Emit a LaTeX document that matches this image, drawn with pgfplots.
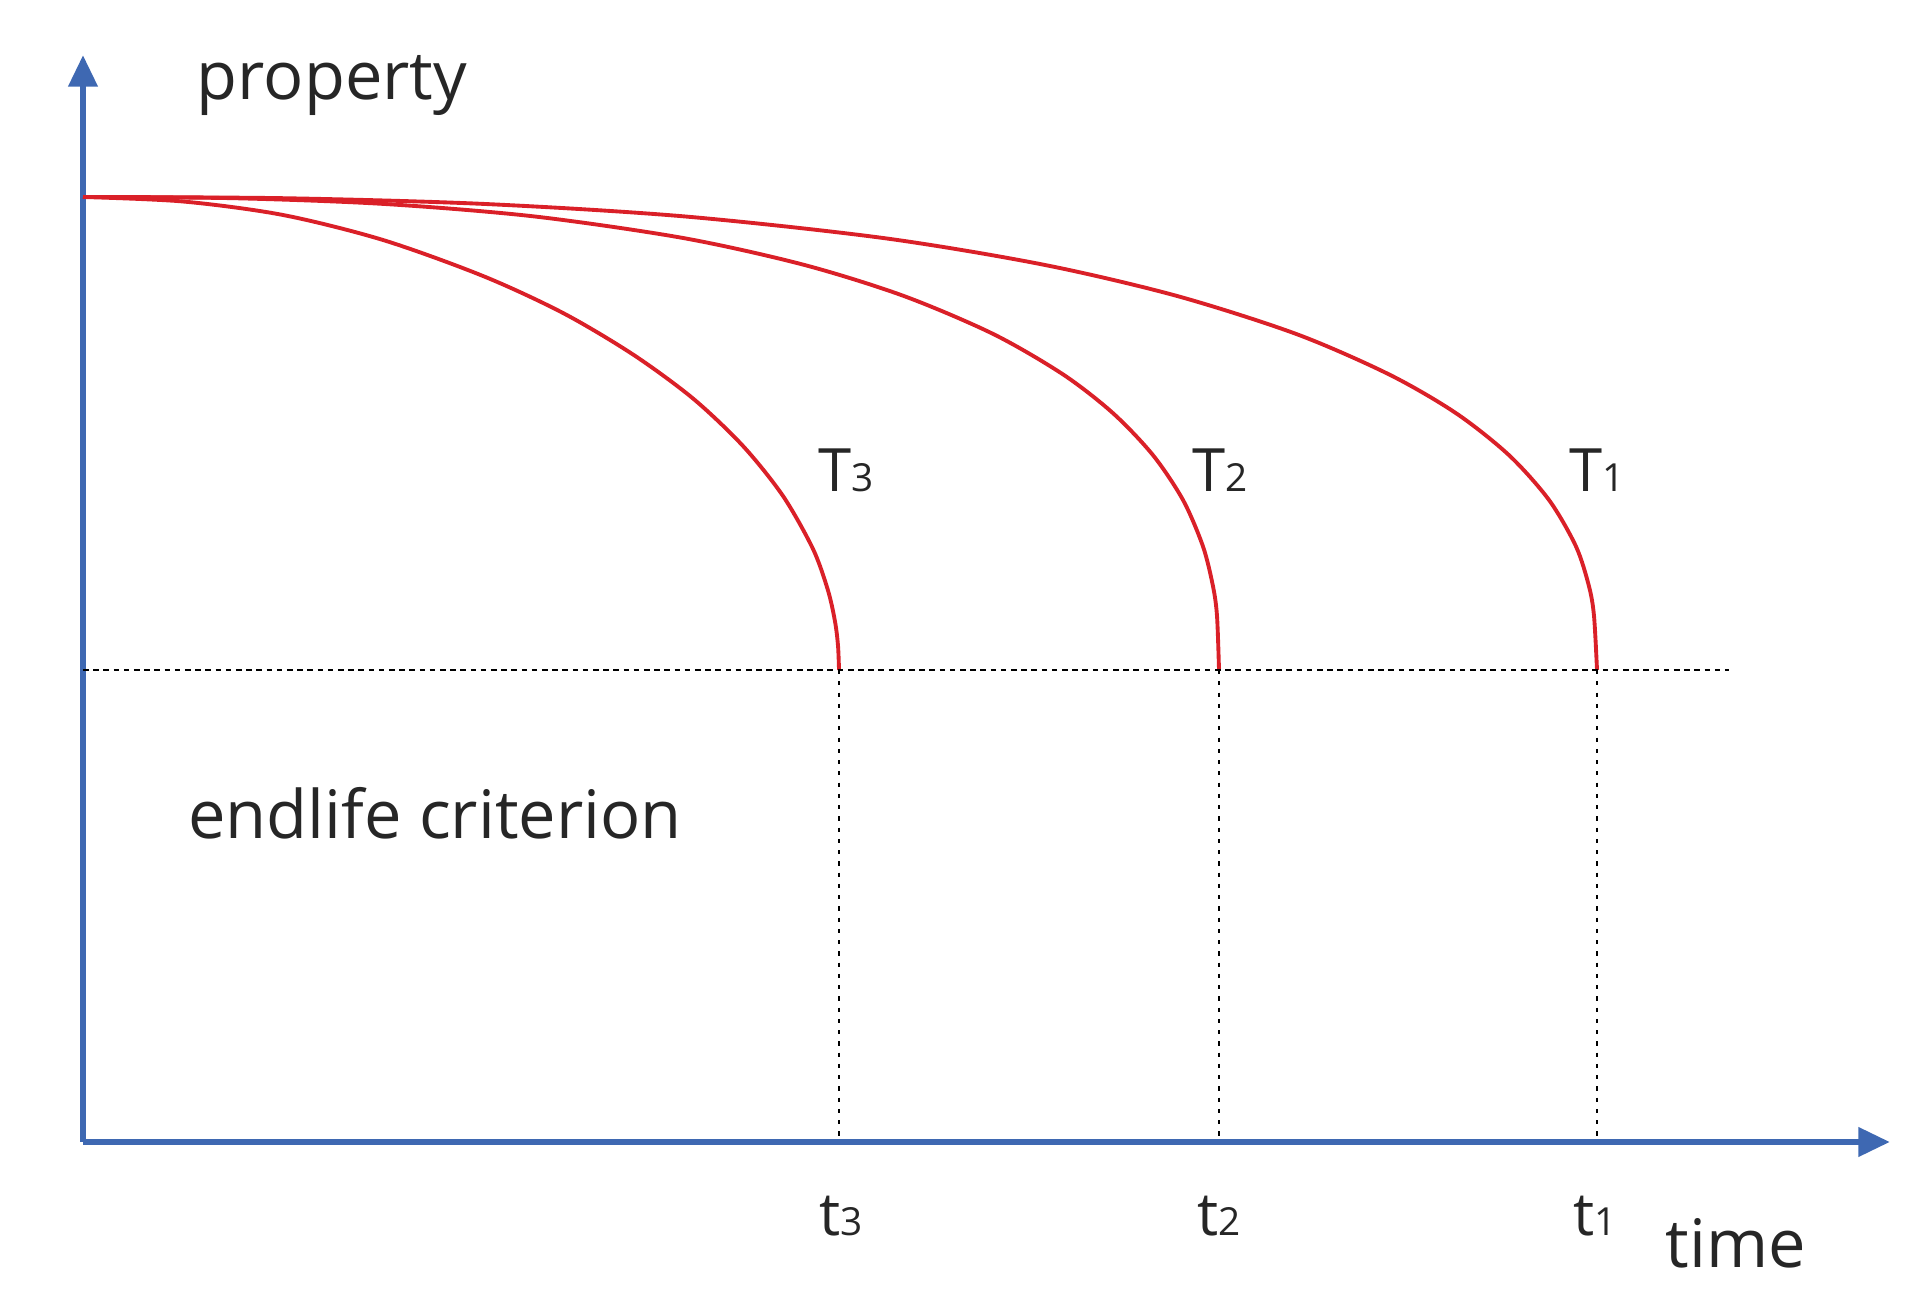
\documentclass[border=0pt]{standalone}
\usepackage{pgfplots}
\pgfplotsset{compat=1.18}
\usepackage{fontspec}
\setmainfont{Open Sans}
\usetikzlibrary{arrows.meta}
\definecolor{axblue}{RGB}{62,104,178}
\definecolor{curvered}{RGB}{218,32,40}
\newcommand{\sub}[1]{{\fontsize{11}{12}\selectfont #1}}
\begin{document}
\begin{tikzpicture}
\begin{axis}[
  x=0.01cm, y=0.01cm,
  xmin=0, xmax=1807, ymin=0, ymax=1087,
  axis lines=left,
  axis line style={axblue, line width=1.9pt, -{Triangle[length=9pt,width=8pt]}},
  ticks=none,
  enlargelimits=false,
  clip=false,
]
% T3
\addplot[curvered, line width=1.1pt, smooth, tension=0.5] coordinates {
 (0,945) (100,940.5) (200,927) (300,902) (400,866) (480,829) (550,787.5)
 (610,743.5) (660,696) (700,646) (730,593) (745,551.5) (752,520.5) (755,496.4) (756,472)};
% T2
\addplot[curvered, line width=1.1pt, smooth, tension=0.5] coordinates {
 (0,945) (150,943.8) (300,938.1) (450,925.7) (600,904) (720,877.4) (820,846.3)
 (910,808.1) (980,767.6) (1030,728.8) (1070,686.8) (1100,642) (1120,595.5)
 (1130,555.6) (1134,526) (1136,472)};
% T1
\addplot[curvered, line width=1.1pt, smooth, tension=0.5] coordinates {
 (0,945) (200,943.8) (400,938.1) (600,925.7) (800,904) (960,877.4) (1093,846.3)
 (1213,808.1) (1306,767.6) (1373,728.8) (1426,686.8) (1466,642) (1493,595.5)
 (1506,555.6) (1511,526) (1514,472)};
% end-of-life threshold
\addplot[black, line width=0.7pt, dash pattern=on 1.6pt off 1.3pt] coordinates {(0,472) (1646,472)};
% drop lines
\addplot[black, line width=0.6pt, dash pattern=on 1.2pt off 2pt] coordinates {(756,472) (756,0)};
\addplot[black, line width=0.6pt, dash pattern=on 1.2pt off 2pt] coordinates {(1136,472) (1136,0)};
\addplot[black, line width=0.6pt, dash pattern=on 1.2pt off 2pt] coordinates {(1514,472) (1514,0)};
% labels
\node[font=\fontsize{19}{22}\selectfont, text=black!85] at (axis cs:249,1056) {property};
\node[font=\fontsize{19}{22}\selectfont, text=black!85] at (axis cs:352,329) {endlife criterion};
\node[font=\fontsize{17}{20}\selectfont, text=black!85] at (axis cs:763,672) {T\sub{3}};
\node[font=\fontsize{17}{20}\selectfont, text=black!85] at (axis cs:1137,672) {T\sub{2}};
\node[font=\fontsize{17}{20}\selectfont, text=black!85] at (axis cs:1514,672) {T\sub{1}};
\node[font=\fontsize{17}{20}\selectfont, text=black!85] at (axis cs:758,-74) {t\sub{3}};
\node[font=\fontsize{17}{20}\selectfont, text=black!85] at (axis cs:1136,-74) {t\sub{2}};
\node[font=\fontsize{17}{20}\selectfont, text=black!85] at (axis cs:1512,-74) {t\sub{1}};
\node[font=\fontsize{19}{22}\selectfont, text=black!85] at (axis cs:1653,-101) {time};
\coordinate (bl) at (axis cs:-83,-168);
\coordinate (tr) at (axis cs:1843,1142);
\end{axis}
\pgfresetboundingbox
\path[use as bounding box] (bl) rectangle (tr);
\end{tikzpicture}
\end{document}
